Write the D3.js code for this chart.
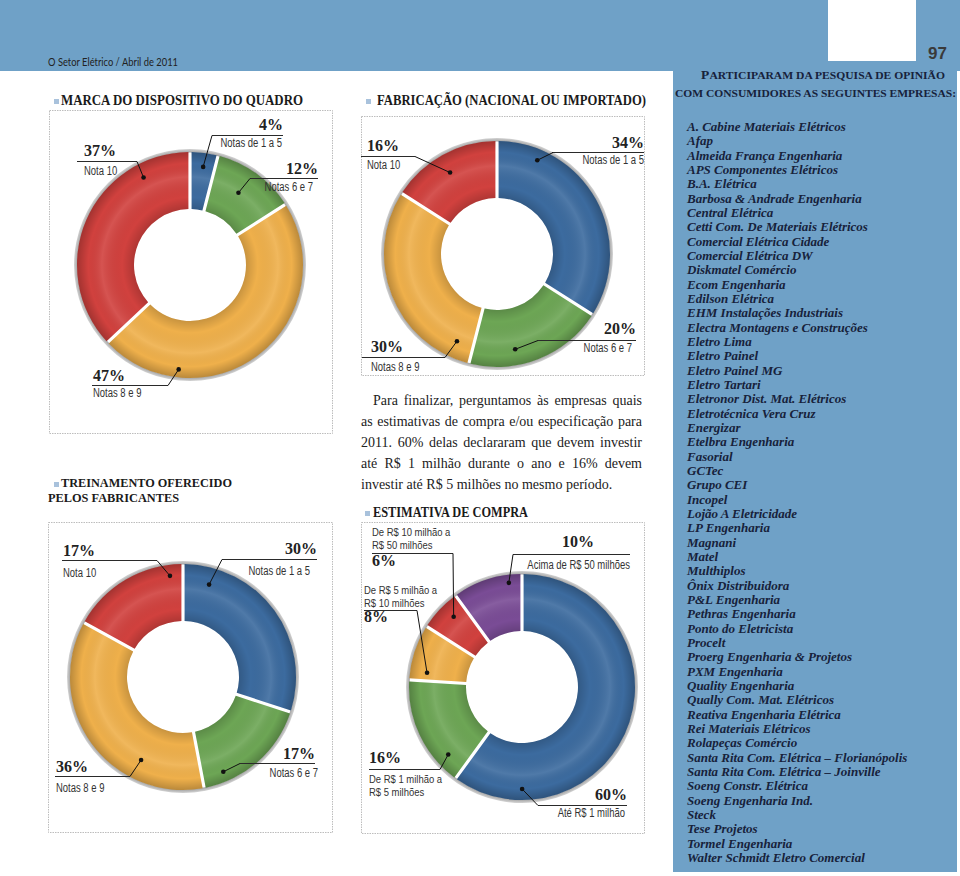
<!DOCTYPE html>
<html><head><meta charset="utf-8">
<script src="https://cdn.jsdelivr.net/npm/d3@7"></script>
<style>
body{margin:0;background:#fff;}
svg{display:block;}
</style></head>
<body>
<svg id="page" width="960" height="876"></svg>
<script>
// ---------------- DATA ----------------
const notaCategories = ["Notas de 1 a 5", "Notas 6 e 7", "Notas 8 e 9", "Nota 10"];
const marcaValues = [4, 12, 47, 37];
const fabricacaoValues = [34, 20, 30, 16];
const treinamentoValues = [30, 17, 36, 17];
const compraCategories = [
  ["Até R$ 1 milhão"],
  ["De R$ 1 milhão a", "R$ 5 milhões"],
  ["De R$ 5 milhão a", "R$ 10 milhões"],
  ["De R$ 10 milhão a", "R$ 50 milhões"],
  ["Acima de R$ 50 milhões"]
];
const compraValues = [60, 16, 8, 6, 10];
const headerText = "O Setor Elétrico / Abril de 2011";
const pageNumber = "97";
const titleMarca = ["MARCA DO DISPOSITIVO DO QUADRO"];
const titleFabricacao = ["FABRICAÇÃO (NACIONAL OU IMPORTADO)"];
const titleTreinamento = ["TREINAMENTO OFERECIDO", "PELOS FABRICANTES"];
const titleCompra = ["ESTIMATIVA DE COMPRA"];
const paragraphLines = [
  "Para finalizar, perguntamos às empresas quais",
  "as estimativas de compra e/ou especificação para",
  "2011. 60% delas declararam que devem investir",
  "até R$ 1 milhão durante o ano e 16% devem",
  "investir até R$ 5 milhões no mesmo período."
];
const panelHeadInitial = "P";
const panelHeading = ["ARTICIPARAM DA PESQUISA DE OPINIÃO", "COM CONSUMIDORES AS SEGUINTES EMPRESAS:"];
const empresas = [
  "A. Cabine Materiais Elétricos", "Afap", "Almeida França Engenharia", "APS Componentes Elétricos",
  "B.A. Elétrica", "Barbosa & Andrade Engenharia", "Central Elétrica", "Cetti Com. De Materiais Elétricos",
  "Comercial Elétrica Cidade", "Comercial Elétrica DW", "Diskmatel Comércio", "Ecom Engenharia",
  "Edilson Elétrica", "EHM Instalações Industriais", "Electra Montagens e Construções", "Eletro Lima",
  "Eletro Painel", "Eletro Painel MG", "Eletro Tartari", "Eletronor Dist. Mat. Elétricos",
  "Eletrotécnica Vera Cruz", "Energizar", "Etelbra Engenharia", "Fasorial", "GCTec", "Grupo CEI",
  "Incopel", "Lojão A Eletricidade", "LP Engenharia", "Magnani", "Matel", "Multhiplos",
  "Ônix Distribuidora", "P&L Engenharia", "Pethras Engenharia", "Ponto do Eletricista", "Procelt",
  "Proerg Engenharia & Projetos", "PXM Engenharia", "Quality Engenharia", "Qually Com. Mat. Elétricos",
  "Reativa Engenharia Elétrica", "Rei Materiais Elétricos", "Rolapeças Comércio",
  "Santa Rita Com. Elétrica – Florianópolis", "Santa Rita Com. Elétrica – Joinville",
  "Soeng Constr. Elétrica", "Soeng Engenharia Ind.", "Steck", "Tese Projetos", "Tormel Engenharia",
  "Walter Schmidt Eletro Comercial"
];

// ---------------- STYLE / LAYOUT ----------------
const C = {blue:"#3c6b9f", green:"#6da655", orange:"#efb04b", red:"#d1413e", purple:"#7a4c96"};
const notaColors = [C.blue, C.green, C.orange, C.red];
const compraColors = [C.blue, C.green, C.orange, C.red, C.purple];
const bandColor = "#6fa1c7";
const navy = "#17223b";
const serifBold = "'Liberation Serif', 'DejaVu Serif', serif";
const sans = "'Liberation Sans', Arial, sans-serif";
const R = 113, r0 = 56;

const svg = d3.select("#page");
const defs = svg.append("defs");
const shade = defs.append("radialGradient").attr("id","shade")
  .attr("gradientUnits","userSpaceOnUse").attr("cx",0).attr("cy",0).attr("r",R);
[[r0/R,"#000",0.16],[0.6,"#000",0.0],[0.78,"#fff",0.10],[0.9,"#000",0.0],[1,"#000",0.22]]
  .forEach(([o,c,a]) => shade.append("stop").attr("offset",o).attr("stop-color",c).attr("stop-opacity",a));
const rimGrad = defs.append("radialGradient").attr("id","rim")
  .attr("gradientUnits","userSpaceOnUse").attr("cx",0).attr("cy",0).attr("r",R+4);
[[R/(R+4),"#a9a9a9"],[1,"#e2e2e2"]].forEach(([o,c]) => rimGrad.append("stop").attr("offset",o).attr("stop-color",c));

function condense(sel, f){
  sel.each(function(){
    const w = this.getComputedTextLength();
    d3.select(this).attr("textLength", w*f).attr("lengthAdjust","spacingAndGlyphs");
  });
  return sel;
}

// background
svg.append("rect").attr("width",960).attr("height",876).attr("fill","#fff");
svg.append("rect").attr("x",0).attr("y",0).attr("width",960).attr("height",71).attr("fill",bandColor);
svg.append("rect").attr("x",673).attr("y",0).attr("width",284).attr("height",872).attr("fill",bandColor);
svg.append("rect").attr("x",828).attr("y",0).attr("width",88).attr("height",61).attr("fill","#fff");
svg.append("text").attr("x",48).attr("y",66).attr("font-family","Lato, 'Open Sans', sans-serif")
  .attr("font-size",10.5).attr("fill","#222").attr("textLength",130).attr("lengthAdjust","spacingAndGlyphs").text(headerText);
svg.append("text").attr("x",947).attr("y",59).attr("text-anchor","end").attr("font-family",sans)
  .attr("font-weight","bold").attr("font-size",17).attr("fill","#3a3a3a").text(pageNumber);

// boxes
const boxes = [[49,110,283,323],[361,116,283,259],[48,522,284,310],[361,522,283,311]];
svg.selectAll("rect.box").data(boxes).join("rect").attr("class","box")
  .attr("x",d=>d[0]+0.5).attr("y",d=>d[1]+0.5).attr("width",d=>d[2]).attr("height",d=>d[3])
  .attr("fill","none").attr("stroke","#bdbdbd").attr("stroke-dasharray","1.5,1");

// section titles
function sectionTitle(lines, bx, by, specs, fs){
  svg.append("rect").attr("x",bx).attr("y",by).attr("width",5).attr("height",5).attr("fill","#a9c2dc");
  lines.forEach((t,i) => {
    const s = specs[i];
    svg.append("text").attr("x",s[0]).attr("y",s[1]).attr("font-family",serifBold).attr("font-weight","bold")
      .attr("font-size",fs).attr("fill","#1a1a1a").attr("textLength",s[2]).attr("lengthAdjust","spacingAndGlyphs").text(t);
  });
}
sectionTitle(titleMarca, 54, 99, [[61,105,242]], 15);
sectionTitle(titleFabricacao, 366, 99, [[377,105,269]], 15);
sectionTitle(titleTreinamento, 54, 482, [[61,487,171],[48,502,131]], 13);
sectionTitle(titleCompra, 365, 511, [[373,517,155]], 15);

// donut charts
const pie = d3.pie().sort(null).value(d=>d);
const arc = d3.arc().innerRadius(r0).outerRadius(R).padAngle(3.2/R).padRadius(R);
const rimArc = d3.arc().innerRadius(R-0.5).outerRadius(R+3).startAngle(0).endAngle(2*Math.PI);

function donut(cfg){
  const g = svg.append("g").attr("transform",`translate(${cfg.cx},${cfg.cy})`);
  g.append("path").attr("d",rimArc()).attr("fill","url(#rim)");
  const arcs = pie(cfg.values);
  g.selectAll("path.slice").data(arcs).join("path").attr("class","slice")
    .attr("d",arc).attr("fill",(d,i)=>cfg.colors[i]);
  g.selectAll("path.shade").data(arcs).join("path").attr("class","shade")
    .attr("d",arc).attr("fill","url(#shade)");
  cfg.labels.forEach((L,i) => {
    const a = arcs[i];
    const ang = a.startAngle + L.t*(a.endAngle - a.startAngle);
    const [dx,dy] = d3.pointRadial(ang, L.r);
    const px = cfg.cx+dx, py = cfg.cy+dy;
    svg.append("line").attr("x1",L.lx[0]).attr("x2",L.lx[1]).attr("y1",L.ly+0.5).attr("y2",L.ly+0.5)
      .attr("stroke","#2a2a2a").attr("stroke-width",1);
    svg.append("line").attr("x1",L.ex).attr("y1",L.ly+0.5).attr("x2",px).attr("y2",py)
      .attr("stroke","#111").attr("stroke-width",1);
    svg.append("circle").attr("cx",px).attr("cy",py).attr("r",2.3).attr("fill","#111");
    svg.append("text").attr("x",L.x).attr("y",L.py).attr("text-anchor",L.anchor)
      .attr("font-family",serifBold).attr("font-weight","bold").attr("font-size",16).attr("fill","#222")
      .text(cfg.values[i] + "%");
    const cat = cfg.cats[i];
    const catLines = Array.isArray(cat) ? cat : [cat];
    const fs = catLines.length > 1 ? 11 : 12.3;
    const cf = catLines.length > 1 ? 0.86 : 0.77;
    catLines.forEach((t,k) => {
      const el = svg.append("text").attr("x",L.sx).attr("y",L.sy[k]).attr("text-anchor",L.subAnchor || L.anchor)
        .attr("font-family",sans).attr("font-size",fs).attr("fill","#333").text(t);
      condense(el, cf);
    });
  });
}

donut({values:marcaValues, cats:notaCategories, colors:notaColors, cx:190, cy:265, labels:[
  {t:.53, r:99,  anchor:"end",   x:283, py:130, lx:[212,283], ly:135, ex:212, sx:282, sy:[147]},
  {t:.45, r:87,  anchor:"end",   x:318, py:174, lx:[250,318], ly:178, ex:250, sx:313, sy:[191]},
  {t:.76, r:105, anchor:"start", x:93,  py:381, lx:[92,168],  ly:385, ex:168, sx:93,  sy:[397]},
  {t:.79, r:99,  anchor:"start", x:84,  py:156, lx:[77,137],  ly:161, ex:137, sx:84,  sy:[175]}
]});
donut({values:fabricacaoValues, cats:notaCategories, colors:notaColors, cx:497, cy:254, labels:[
  {t:.19, r:102, anchor:"end",   x:644, py:148, lx:[552,644], ly:152, ex:553, sx:644, sy:[164]},
  {t:.65, r:97,  anchor:"end",   x:636, py:334, lx:[538,636], ly:340, ex:538, sx:632, sy:[352]},
  {t:.095,r:96,  anchor:"start", x:371, py:352, lx:[362,445], ly:357, ex:445, sx:371, sy:[371]},
  {t:.48, r:94,  anchor:"start", x:367, py:151, lx:[361,415], ly:156, ex:415, sx:367, sy:[169]}
]});
donut({values:treinamentoValues, cats:notaCategories, colors:notaColors, cx:183, cy:677, labels:[
  {t:.146,r:96,  anchor:"end",   x:317, py:554, lx:[222,317], ly:559, ex:222, sx:310, sy:[575]},
  {t:.80, r:103, anchor:"end",   x:315, py:759, lx:[240,315], ly:763, ex:240, sx:318, sy:[777]},
  {t:.29, r:93,  anchor:"start", x:56,  py:772, lx:[55,130],  ly:776, ex:130, sx:56,  sy:[792]},
  {t:.88, r:102, anchor:"start", x:63,  py:556, lx:[62,157],  ly:560, ex:157, sx:63,  sy:[577]}
]});
donut({values:compraValues, cats:compraCategories, colors:compraColors, cx:522, cy:687, labels:[
  {t:.833,r:102, anchor:"end",   x:627, py:800, lx:[538,627], ly:805, ex:538, sx:625, sy:[817]},
  {t:.2,  r:100, anchor:"start", x:369, py:763, lx:[369,440], ly:769, ex:440, sx:369, sy:[783,796]},
  {t:.17, r:96,  anchor:"start", x:364, py:622, lx:[364,417], ly:610, ex:417, sx:364, sy:[594,607]},
  {t:.62, r:98,  anchor:"start", x:372, py:566, lx:[372,453], ly:553, ex:453, sx:372, sy:[536,549]},
  {t:.8,  r:105, anchor:"start", x:562, py:547, lx:[513,630], ly:554, ex:513, sx:630, sy:[569], subAnchor:"end"}
]});

// paragraph (justified)
const pg = svg.append("g");
const paraTop = 405, paraStep = 21, paraLeft = 361, paraRight = 642;
paragraphLines.forEach((t,i) => {
  const x0 = i===0 ? 373 : paraLeft;
  const el = pg.append("text").attr("x",x0).attr("y",paraTop+i*paraStep)
    .attr("font-family","'Liberation Serif', 'DejaVu Serif', serif").attr("font-size",14).attr("fill","#222").text(t);
  if (i < paragraphLines.length-1){
    const w = el.node().getComputedTextLength();
    const n = t.split(" ").length-1;
    el.attr("word-spacing", ((paraRight-x0)-w)/n);
  }
});

// right panel heading (small caps, separate initial)
svg.append("text").attr("x",701).attr("y",79).attr("font-family",serifBold).attr("font-weight","bold")
  .attr("fill",navy).attr("font-size",13.5).text(panelHeadInitial);
const headSpecs = [[709.5,79,235.5],[675,97,281]];
panelHeading.forEach((t,i) => {
  svg.append("text").attr("x",headSpecs[i][0]).attr("y",headSpecs[i][1])
    .attr("font-family",serifBold).attr("font-weight","bold").attr("fill",navy).attr("font-size",11)
    .attr("textLength",headSpecs[i][2]).attr("lengthAdjust","spacingAndGlyphs").text(t);
});
const listY = d3.scaleLinear().domain([0, empresas.length-1]).range([131, 862]);
svg.selectAll("text.emp").data(empresas).join("text").attr("class","emp")
  .attr("x",687).attr("y",(d,i)=>listY(i))
  .attr("font-family","'Liberation Serif', 'DejaVu Serif', serif").attr("font-weight","bold").attr("font-style","italic")
  .attr("font-size",13).attr("fill",navy).text(d=>d);
</script>
</body></html>
